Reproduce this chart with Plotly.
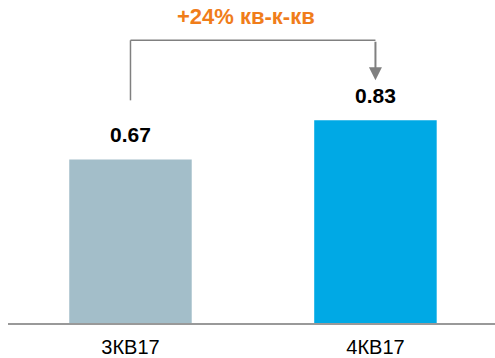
import plotly.graph_objects as go

# Quarterly values
categories = ["3КВ17", "4КВ17"]
values = [0.67, 0.83]
value_labels = ["0.67", "0.83"]
bar_colors = ["#A3BEC9", "#00A9E5"]
growth_label = "+24% кв-к-кв"

FONT = "Liberation Sans, Arial, sans-serif"

fig = go.Figure()
fig.add_trace(go.Bar(
    x=[0, 1],
    y=values,
    width=0.5,
    marker=dict(color=bar_colors, line=dict(width=0)),
    hoverinfo="skip",
))

# Value labels above the bars
for i, (v, lab) in enumerate(zip(values, value_labels)):
    fig.add_annotation(
        x=i, y=v, text=f"<b>{lab}</b>", showarrow=False,
        yanchor="bottom", yshift=11,
        font=dict(family=FONT, size=21, color="#000000"),
    )

# Growth bracket: up from the first bar, across, and down onto the second
bracket_low, bracket_top, arrow_tip = 0.912, 1.158, 0.994
fig.add_shape(type="line", x0=0, x1=0, y0=bracket_low, y1=bracket_top,
              line=dict(color="#808080", width=1.5))
fig.add_shape(type="line", x0=0, x1=1, y0=bracket_top, y1=bracket_top,
              line=dict(color="#808080", width=1.5))
fig.add_annotation(
    x=1, y=arrow_tip, ax=1, ay=bracket_top, axref="x", ayref="y",
    text="", showarrow=True, arrowhead=2, arrowsize=1.3, arrowwidth=2,
    arrowcolor="#808080", standoff=0,
)
fig.add_annotation(
    x=0.47, y=1.255, text=f"<b>{growth_label}</b>", showarrow=False,
    yanchor="middle",
    font=dict(family=FONT, size=22, color="#F07D1A"),
)

fig.update_layout(
    width=495, height=358,
    margin=dict(l=8, r=0, t=0, b=35),
    paper_bgcolor="white", plot_bgcolor="white",
    showlegend=False,
    xaxis=dict(
        range=[-0.5, 1.488],
        tickmode="array", tickvals=[0, 1], ticktext=categories,
        tickfont=dict(family=FONT, size=20, color="#000000"),
        ticklabelstandoff=5, automargin=False,
        showgrid=False, zeroline=False, ticks="",
        showline=True, linecolor="#999999", linewidth=1.5,
        fixedrange=True,
    ),
    yaxis=dict(
        range=[0, 1.323], visible=False, showgrid=False, zeroline=False,
        fixedrange=True,
    ),
)

fig.write_html("out.html")
